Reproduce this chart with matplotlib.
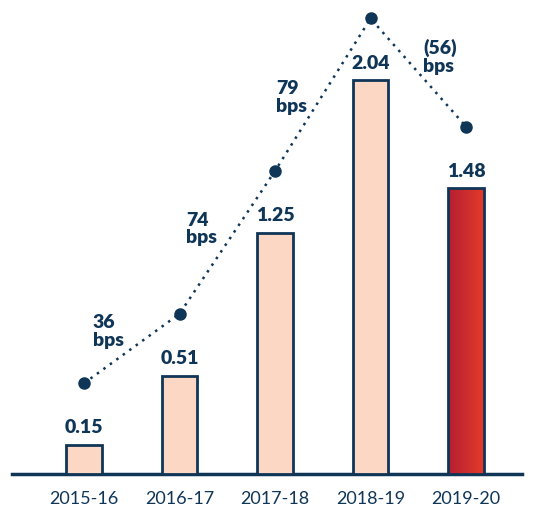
import numpy as np
import matplotlib
matplotlib.use("Agg")
import matplotlib.pyplot as plt

years = ["2015-16", "2016-17", "2017-18", "2018-19", "2019-20"]
bar_values = [0.15, 0.51, 1.25, 2.04, 1.48]
dot_values = [0.47, 0.83, 1.57, 2.36, 1.80]
bps_labels = ["36\nbps", "74\nbps", "79\nbps", "(56)\nbps"]

navy = "#0f3557"
peach = "#fbd7c4"

plt.rcParams['font.family'] = ['Lato', 'DejaVu Sans']

fig = plt.figure(figsize=(5.38, 5.14), dpi=100)
ax = fig.add_axes([12/538, 40/514, 510/538, 464/514])

x = np.arange(len(years))
w = 0.37
bars = ax.bar(x, bar_values, width=w, color=peach, edgecolor=navy, linewidth=2, zorder=3)

# gradient on the last bar
last = bars[-1]
grad = np.linspace(0, 1, 100).reshape(1, -1)
cmap = matplotlib.colors.LinearSegmentedColormap.from_list("r", ["#b31f32", "#e53a29"])
bx = last.get_x()
im = ax.imshow(grad, cmap=cmap, aspect="auto", extent=[bx, bx + w, 0, bar_values[-1]], zorder=3.5)
im.set_clip_path(last)
last.set_facecolor("none")
last.set_zorder(4)

for xi, v in zip(x, bar_values):
    ax.text(xi, v + 0.045, f"{v:.2f}", ha="center", va="bottom", fontsize=14,
            fontweight="heavy", color=navy, zorder=5)

ax.plot(x, dot_values, linestyle=(0, (1, 2.2)), linewidth=1.8, color=navy,
        marker="o", markersize=8, zorder=5)

# bps change labels next to segments
label_pos = [(0.09, 0.74), (1.07, 1.27), (2.01, 1.95), (3.55, 2.16)]
for (lx, ly), t in zip(label_pos, bps_labels):
    ax.text(lx, ly, t, ha="left", va="center", fontsize=14, fontweight="heavy",
            color=navy, linespacing=1.05)

ax.set_xlim(-0.754, 4.586)
ax.set_ylim(0, 2.404)
ax.set_xticks(x)
ax.set_xticklabels(years, fontsize=13, color=navy)
ax.tick_params(axis="x", length=0, pad=12)
ax.set_yticks([])
for s in ["top", "right", "left"]:
    ax.spines[s].set_visible(False)
ax.spines["bottom"].set_color(navy)
ax.spines["bottom"].set_linewidth(2.5)

fig.savefig("out.png", dpi=100)
